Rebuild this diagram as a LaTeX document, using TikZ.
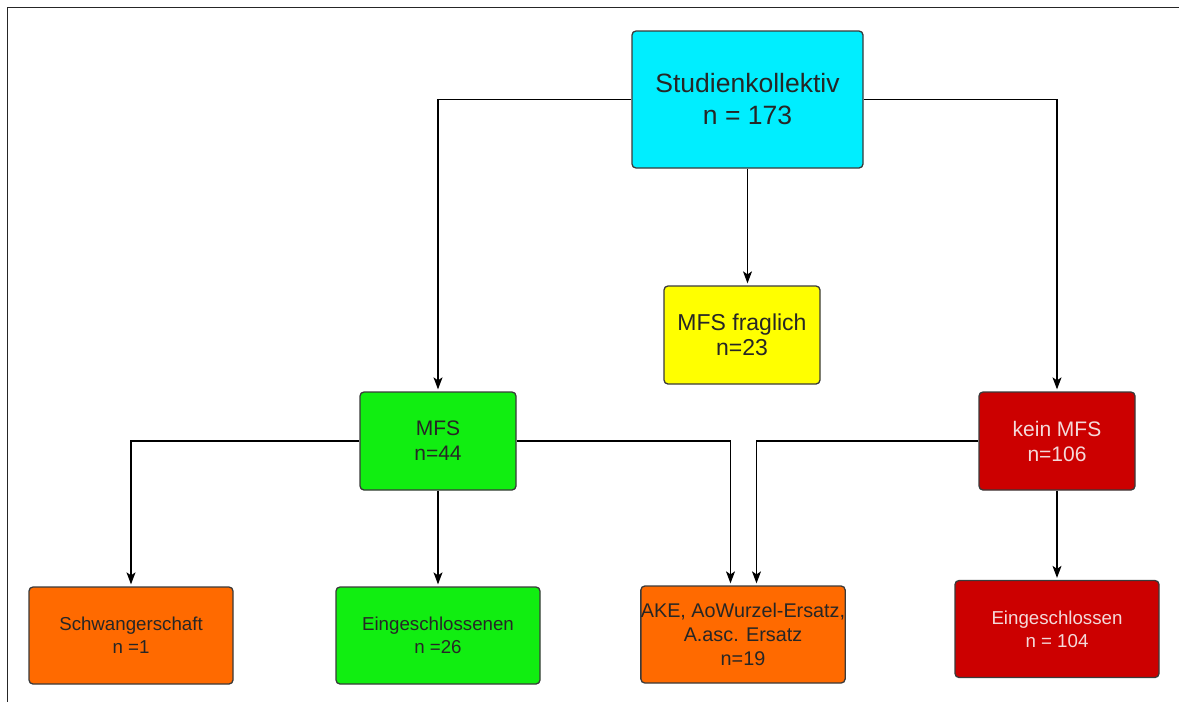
\documentclass[tikz,border=0pt]{standalone}
\usepackage{fontspec}
\setmainfont{Liberation Sans}
\usetikzlibrary{arrows.meta}
\definecolor{cyanbox}{HTML}{00EEFF}
\definecolor{greenbox}{HTML}{11EE11}
\definecolor{yellowbox}{HTML}{FFFF00}
\definecolor{orangebox}{HTML}{FF6A00}
\definecolor{redbox}{HTML}{CC0000}
\definecolor{boxline}{HTML}{3A3A3A}
\definecolor{darktext}{HTML}{262626}
\definecolor{lighttext}{HTML}{F4DADA}
\tikzset{
  box/.style={draw=boxline, line width=1.3pt, rounded corners=4pt, inner sep=0pt, align=center, text=darktext},
  bigbox/.style={box, minimum width=231pt, minimum height=137pt, font=\fontsize{26.5}{32}\selectfont},
  midbox/.style={box, minimum width=156pt, minimum height=98pt, font=\fontsize{21}{25}\selectfont},
  smallbox/.style={box, minimum width=204pt, minimum height=97pt, font=\fontsize{18.7}{23}\selectfont},
  arr/.style={draw=black, line width=1.1pt, -{Stealth[length=12pt,width=9pt,inset=3pt]}, shorten >=2pt},
  frame/.style={draw=black!85, line width=1.2pt}
}
\begin{document}
\begin{tikzpicture}[x=1pt,y=-1pt]
\useasboundingbox (0,0) rectangle (1179,702);
\draw[frame] (7.5,702) -- (7.5,7.5) -- (1179,7.5);

\node[bigbox, fill=cyanbox] (stud) at (747.5,99.5) {Studienkollektiv\\n = 173};
\node[midbox, fill=yellowbox, font=\fontsize{23}{25}\selectfont] (frag) at (742,335) {MFS fraglich\\n=23};
\node[midbox, fill=greenbox] (mfs) at (438,441) {MFS\\n=44};
\node[midbox, fill=redbox, text=lighttext] (kein) at (1057,441) {kein MFS\\n=106};
\node[smallbox, fill=orangebox] (schw) at (131,635.5) {Schwangerschaft\\n =1};
\node[smallbox, fill=greenbox] (ein) at (438,635.5) {Eingeschlossenen\\n =26};
\node[smallbox, fill=orangebox, font=\fontsize{19.8}{24}\selectfont] (ake) at (743,634.5) {AKE, AoWurzel-Ersatz,\\A.asc. Ersatz\\n=19};
\node[smallbox, fill=redbox, text=lighttext] (ein2) at (1057,629) {Eingeschlossen\\n = 104};

\draw[arr] (stud.west) -| (mfs.north);
\draw[arr] (stud.east) -| (kein.north);
\draw[arr] (stud.south) -- (stud.south |- frag.north);
\draw[arr] (mfs.west) -| (schw.north);
\draw[arr] (mfs.south) -- (ein.north);
\draw[arr] (mfs.east) -| ([xshift=-12.5pt]ake.north);
\draw[arr] (kein.west) -| ([xshift=13.5pt]ake.north);
\draw[arr] (kein.south) -- (ein2.north);
\end{tikzpicture}
\end{document}
